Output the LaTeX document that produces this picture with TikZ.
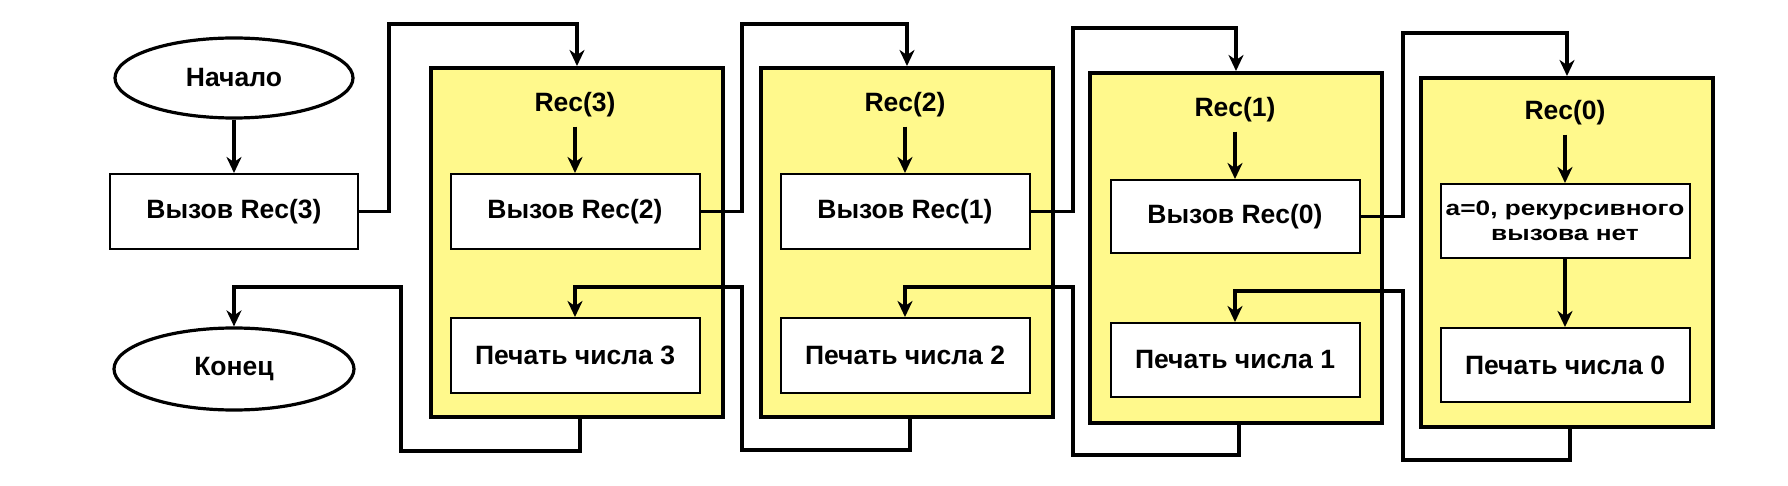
\documentclass[tikz,border=0pt]{standalone}
\usepackage{fontspec}
\setmainfont{Liberation Sans}
\newfontfamily\widefont{Liberation Sans}[FakeStretch=1.25]
\usetikzlibrary{shapes.geometric,arrows.meta}
\definecolor{recyel}{RGB}{255,249,140}
\begin{document}
\begin{tikzpicture}[x=1pt,y=-1pt,
  font=\fontsize{26.5}{30}\selectfont\bfseries,
  frame/.style={draw, line width=4pt, fill=recyel, minimum width=292pt, minimum height=349pt, inner sep=0pt},
  box/.style={draw, line width=2pt, fill=white, minimum width=249pt, minimum height=75pt, inner sep=0pt},
  term/.style={draw, ellipse, line width=3.2pt, fill=white, minimum width=238pt, minimum height=80pt, inner sep=0pt},
  lab/.style={inner sep=9pt},
  conn/.style={line width=3.5pt, -{Stealth[length=16pt,width=15pt,inset=5pt]}},
  wire/.style={line width=3.5pt}]
\useasboundingbox (0,0) rectangle (1788,486);
% left column
\node[term] (start) at (234,78) {Начало};
\node[box, minimum width=248pt] (call3) at (234,211.5) {Вызов Rec(3)};
\node[term, minimum width=240pt, minimum height=82pt] (end) at (234,369) {Конец};
% frames
\node[frame] (F3) at (577,242.5) {};
\node[frame] (F2) at (907,242.5) {};
\node[frame, minimum height=350pt] (F1) at (1236,248) {};
\node[frame] (F0) at (1567,252.5) {};
% frame contents
\node[lab] (l3) at (575,105) {Rec(3)};
\node[box] (c3) at (575,211.5) {Вызов Rec(2)};
\node[box] (p3) at (575,355.5) {Печать числа 3};
\node[lab] (l2) at (905,105) {Rec(2)};
\node[box] (c2) at (905,211.5) {Вызов Rec(1)};
\node[box] (p2) at (905,355.5) {Печать числа 2};
\node[lab] (l1) at (1235,110) {Rec(1)};
\node[box, minimum height=73pt] (c1) at (1235,216.5) {Вызов Rec(0)};
\node[box, minimum height=74pt] (p1) at (1235,360) {Печать числа 1};
\node[lab] (l0) at (1565,113) {Rec(0)};
\node[box, minimum height=74pt, align=center, font=\widefont\fontsize{21}{25}\selectfont\bfseries] (a0) at (1565,221) {a=0, рекурсивного\\вызова нет};
\node[box, minimum height=74pt] (p0) at (1565,365) {Печать числа 0};
% bend points
\coordinate (t3) at (389,24);
\coordinate (t2) at (742,24);
\coordinate (t1) at (1073,28);
\coordinate (t0) at (1403,33);
\coordinate (b3) at (401,451);
\coordinate (u3) at (401,287);
\coordinate (b2) at (742,450);
\coordinate (u2) at (742,287);
\coordinate (b1) at (1073,455);
\coordinate (u1) at (1073,287);
\coordinate (b0) at (1403,460);
\coordinate (u0) at (1403,291);
% connectors
\draw[conn] (start.south) -- (call3.north);
\draw[conn] (call3.east) -| (t3) -| (F3.north);
\draw[conn] (c3.east) -| (t2) -| (F2.north);
\draw[conn] (c2.east) -| (t1) -| (F1.north);
\draw[conn] (c1.east) -| (t0) -| (F0.north);
\draw[conn] (l3.south) -- (c3.north);
\draw[conn] (l2.south) -- (c2.north);
\draw[conn] (l1.south) -- (c1.north);
\draw[conn] (l0.south) -- (a0.north);
\draw[conn] (a0.south) -- (p0.north);
\draw[conn] ([xshift=3pt]F0.south) |- (b0) -- (u0) -| (p1.north);
\draw[conn] ([xshift=3pt]F1.south) |- (b1) -- (u1) -| (p2.north);
\draw[conn] ([xshift=3pt]F2.south) |- (b2) -- (u2) -| (p3.north);
\draw[conn] ([xshift=3pt]F3.south) |- (b3) -- (u3) -| (end.north);
\end{tikzpicture}
\end{document}
